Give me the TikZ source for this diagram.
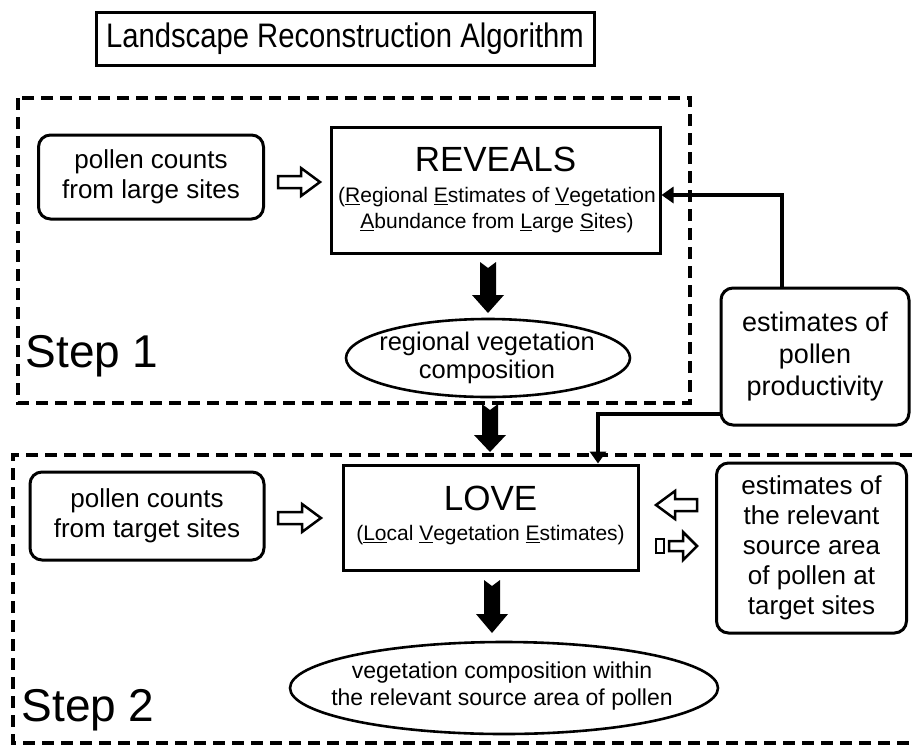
\documentclass[tikz,border=0pt]{standalone}
\usepackage{fontspec}
\setmainfont{Liberation Sans}
\newfontfamily\titlefont[FakeStretch=0.86]{Liberation Sans}
\usetikzlibrary{shapes.geometric,arrows.meta}
\newcommand\myul[1]{\setbox0\hbox{#1}\rlap{\rule[-3pt]{\wd0}{1.4pt}}\box0}
\newcommand\hollowright[3]{\draw[hollow] (#1,#3-6) -- (#2-19,#3-6) -- (#2-19,#3-14) -- (#2,#3) -- (#2-19,#3+14) -- (#2-19,#3+6) -- (#1,#3+6) -- cycle;}
\newcommand\hollowleft[3]{\draw[hollow] (#2,#3-6) -- (#1+19,#3-6) -- (#1+19,#3-14) -- (#1,#3) -- (#1+19,#3+14) -- (#1+19,#3+6) -- (#2,#3+6) -- cycle;}
\newcommand\blackdown[4]{\fill (#1-8,#2) -- (#1,#2+6) -- (#1+8,#2) -- (#1+8,#3) -- (#1+16,#3) -- (#1,#4) -- (#1-16,#3) -- (#1-8,#3) -- cycle;}
\begin{document}
\begin{tikzpicture}[x=1pt,y=-1pt,
  dashbox/.style={line width=4.5pt, dash pattern=on 12pt off 7pt},
  rbox/.style={draw, line width=3pt, rounded corners=12pt, align=center, inner sep=0pt},
  sbox/.style={draw, line width=3pt, align=center, inner sep=0pt},
  oval/.style={draw, line width=2.6pt, ellipse, inner sep=0pt},
  txt/.style={align=center, inner sep=0pt},
  hollow/.style={draw, line width=2.5pt, fill=white, line join=miter},
  conn/.style={line width=4pt, -{Triangle[length=12pt,width=16pt]}},
  big/.style={font=\fontsize{46}{50}\selectfont},
  sub/.style={txt, font=\fontsize{21}{26}\selectfont},
]
\useasboundingbox (0,0) rectangle (912,747);
% title
\node[sbox, minimum width=498pt, minimum height=53pt, font=\titlefont\fontsize{34}{38}\selectfont] (title) at (345,38.5) {Landscape Reconstruction Algorithm};
% step 1 frame
\draw[dashbox] (18,98) rectangle (690,403);
\node[big, anchor=west] (step1) at (22,356) {Step 1};
\node[rbox, minimum width=225pt, minimum height=84pt, font=\fontsize{26}{30}\selectfont] (plarge) at (151,177) {pollen counts\\from large sites};
\hollowright{278}{320}{182}
\node[sbox, minimum width=329pt, minimum height=126pt] (reveals) at (495.5,190) {};
\node[txt, font=\fontsize{35}{40}\selectfont] (revealsname) at (495.5,159) {REVEALS};
\node[sub] (revealssub) at (497,210) {(\myul{R}egional \myul{E}stimates of \myul{V}egetation\\\myul{A}bundance from \myul{L}arge \myul{S}ites)};
\blackdown{488}{262}{295}{313}
\node[oval, minimum width=284pt, minimum height=78pt] (regional) at (488,358) {};
\node[txt, font=\fontsize{25.5}{28}\selectfont] (regionaltext) at (487,358) {regional vegetation\\composition};
% productivity
\node[rbox, minimum width=188pt, minimum height=137pt, font=\fontsize{27}{32}\selectfont] (prod) at (815,356.5) {estimates of\\pollen\\productivity};
\coordinate (c1) at (782,195);
\draw[conn] (prod.north -| c1) -- (c1) -- (c1 -| reveals.east);
\coordinate (c2) at (598,414);
\blackdown{490}{404}{435}{452}
% step 2 frame
\draw[dashbox] (912,455) -- (13,455) -- (13,743) -- (912,743);
\node[big, anchor=west] (step2) at (18,710) {Step 2};
\node[rbox, minimum width=234pt, minimum height=88pt, font=\fontsize{26}{30}\selectfont] (ptarget) at (147,516) {pollen counts\\from target sites};
\hollowright{278}{321}{518}
\node[sbox, minimum width=295pt, minimum height=105pt] (love) at (490.5,517.5) {};
\node[txt, font=\fontsize{35}{40}\selectfont] (lovename) at (490.5,498) {LOVE};
\node[sub] (lovesub) at (490.5,535) {(\myul{Lo}cal \myul{V}egetation \myul{E}stimates)};
\draw[conn] (prod.west |- c2) -- (c2) -- (c2 |- love.north);
\hollowleft{656}{697}{505}
\draw[hollow] (656,539) rectangle (664,553);
\draw[hollow] (669,541) -- (683,541) -- (683,532) -- (697,546) -- (683,560) -- (683,551) -- (669,551) -- cycle;
\node[rbox, minimum width=190pt, minimum height=170pt, font=\fontsize{26}{30}\selectfont] (area) at (811.5,548) {estimates of\\the relevant\\source area\\of pollen at\\target sites};
\blackdown{492}{580}{614}{633}
\node[oval, minimum width=428pt, minimum height=92pt] (within) at (504,688) {};
\node[txt, font=\fontsize{23}{27}\selectfont] (withintext) at (502,686) {vegetation composition within\\the relevant source area of pollen};
\end{tikzpicture}
\end{document}
